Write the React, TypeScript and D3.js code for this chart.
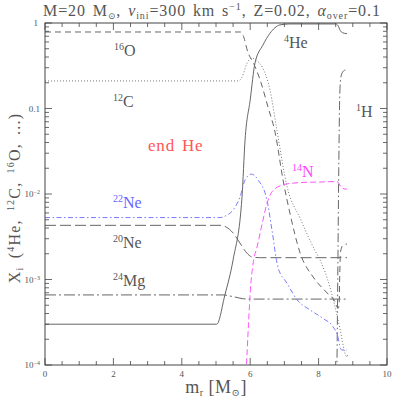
import React from "react";
import * as d3 from "d3";

const heX = [0, 5.02, 5.26, 5.5, 5.76, 5.85, 6.0, 6.14, 6.37, 6.58, 6.87, 7.16, 8.5, 8.57, 8.63, 8.7, 8.83];
const heY = [3.0e-4, 3.0e-4, 6.6e-4, 1.7e-3, 9.2e-3, 0.043, 0.126, 0.34, 0.55, 0.76, 0.95, 0.975, 0.975, 0.93, 0.82, 0.77, 0.75];

const hX = [8.53, 8.56, 8.59, 8.62, 8.65, 8.7, 8.76, 8.83];
const hY = [5e-5, 1e-3, 0.02, 0.15, 0.23, 0.265, 0.28, 0.285];

const cX = [0, 5.65, 5.76, 5.91, 6.05, 6.2, 6.35, 6.58, 6.78, 7.08, 7.46, 7.89, 8.04, 8.33, 8.48, 8.63, 8.77, 8.83, 8.85];
const cY = [0.21, 0.21, 0.233, 0.34, 0.39, 0.36, 0.306, 0.164, 0.056, 0.0121, 0.0052, 0.0022, 0.0017, 8.2e-4, 4.8e-4, 2.6e-4, 1.38e-4, 1.24e-4, 1.3e-4];

const oX = [0, 5.72, 5.79, 5.94, 6.08, 6.29, 6.52, 6.73, 6.96, 7.16, 7.46, 7.84, 8.25, 8.48, 8.57, 8.6, 8.62, 8.64, 8.71, 8.83];
const oY = [0.785, 0.785, 0.72, 0.446, 0.35, 0.216, 0.104, 0.052, 0.0146, 0.006, 0.00204, 0.00107, 6.95e-4, 5.5e-4, 4.6e-4, 5e-4, 1.2e-3, 2.1e-3, 2.5e-3, 2.6e-3];

const ne20X = [0, 5.12, 5.3, 5.5, 5.7, 5.9, 6.08, 6.3, 8.83];
const ne20Y = [4.3e-3, 4.3e-3, 4.1e-3, 3.5e-3, 2.67e-3, 2.04e-3, 1.82e-3, 1.8e-3, 1.8e-3];

const mgX = [0, 5.2, 5.5, 5.8, 6.0, 8.83];
const mgY = [6.6e-4, 6.6e-4, 6.3e-4, 5.95e-4, 5.9e-4, 5.9e-4];

const ne22X = [0, 5.12, 5.3, 5.5, 5.7, 5.85, 6.04, 6.23, 6.49, 6.64, 6.81, 7.08, 7.37, 7.75, 8.13, 8.42, 8.57, 8.63, 8.68, 8.83];
const ne22Y = [5.3e-3, 5.3e-3, 5.6e-3, 6.5e-3, 9.2e-3, 0.0146, 0.0171, 0.0146, 8.5e-3, 3.7e-3, 1.4e-3, 9e-4, 5.8e-4, 4.4e-4, 3.5e-4, 2.8e-4, 2.1e-4, 1.6e-4, 1.5e-4, 1.5e-4];

const nX = [5.88, 5.95, 6.0, 6.08, 6.2, 6.35, 6.5, 6.67, 6.96, 7.25, 7.66, 8.04, 8.54, 8.65, 8.71, 8.83];
const nY = [8e-5, 3e-4, 7e-4, 1.5e-3, 2.4e-3, 4.5e-3, 8e-3, 0.011, 0.0128, 0.0134, 0.0137, 0.0138, 0.014, 0.0122, 0.0116, 0.0114];

const xTicksMajor = [0, 2, 4, 6, 8, 10];

const W = 409, H = 409;
const L = 45, R = 387, T = 23, B = 365;

const x = d3.scaleLinear().domain([0, 10]).range([L, R]);
const y = d3.scaleLog().domain([1e-4, 1]).range([B, T]);

const line = d3
  .line<[number, number]>()
  .x((d) => x(d[0]))
  .y((d) => y(d[1]))
  .curve(d3.curveMonotoneX);

const zip = (a: number[], b: number[]) => a.map((v, i) => [v, b[i]] as [number, number]);

const series = [
  { xs: heX, ys: heY, color: "#666", dash: "none" },
  { xs: hX, ys: hY, color: "#666", dash: "9,3,1.5,3" },
  { xs: cX, ys: cY, color: "#777", dash: "1,2" },
  { xs: oX, ys: oY, color: "#666", dash: "6,4" },
  { xs: ne20X, ys: ne20Y, color: "#666", dash: "11,4" },
  { xs: mgX, ys: mgY, color: "#666", dash: "11,3,2,3" },
  { xs: ne22X, ys: ne22Y, color: "#7a7aff", dash: "5,2.5,1.5,2.5" },
  { xs: nX, ys: nY, color: "#ff55ff", dash: "6,3" },
];

const serif = "'Liberation Serif', 'DejaVu Serif', serif";

export default function App() {
  const xMinor = d3.range(0, 10.01, 0.5);
  const yMinor: number[] = [];
  for (let e = -4; e < 0; e++) for (let k = 2; k <= 9; k++) yMinor.push(k * Math.pow(10, e));
  const yMajor = [1e-4, 1e-3, 1e-2, 1e-1, 1];
  const txt = "#555";
  return (
    <svg width={W} height={H} style={{ position: "absolute", left: 0, top: 0 }}>
      <rect width={W} height={H} fill="#fff" />
      <defs>
        <clipPath id="pa">
          <rect x={L} y={T} width={R - L} height={B - T} />
        </clipPath>
      </defs>
      {/* title */}
      <text x={43} y={16} fontFamily={serif} fontSize={16} fill="#555" letterSpacing={0.9} wordSpacing={2}>
        M=20 M<tspan dy={3} fontSize={9}>⊙</tspan>
        <tspan dy={-3}>, </tspan>
        <tspan fontStyle="italic">v</tspan>
        <tspan dy={3} fontSize={10}>ini</tspan>
        <tspan dy={-3}>=300 km s</tspan>
        <tspan dy={-6} fontSize={10}>−1</tspan>
        <tspan dy={6}>, Z=0.02, </tspan>
        <tspan fontStyle="italic">α</tspan>
        <tspan dy={3} fontSize={10}>over</tspan>
        <tspan dy={-3}>=0.1</tspan>
      </text>
      {/* curves */}
      <g clipPath="url(#pa)" fill="none">
        {series.map((s, i) => (
          <path key={i} d={line(zip(s.xs, s.ys)) || ""} stroke={s.color} strokeWidth={1} strokeDasharray={s.dash} />
        ))}
      </g>
      {/* frame */}
      <rect x={L} y={T} width={R - L} height={B - T} fill="none" stroke="#444" strokeWidth={1} />
      {/* x ticks */}
      {xMinor.map((v, i) => {
        const maj = xTicksMajor.includes(v);
        const len = maj ? 7 : 4;
        return (
          <g key={"xt" + i} stroke="#444" strokeWidth={0.8}>
            <line x1={x(v)} x2={x(v)} y1={B} y2={B - len} />
            <line x1={x(v)} x2={x(v)} y1={T} y2={T + len} />
          </g>
        );
      })}
      {xTicksMajor.map((v) => (
        <text key={"xl" + v} x={x(v)} y={377} textAnchor="middle" fontFamily={serif} fontSize={9} fill={txt}>
          {v}
        </text>
      ))}
      {/* y ticks */}
      {yMajor.map((v, i) => (
        <g key={"ym" + i} stroke="#444" strokeWidth={0.8}>
          <line x1={L} x2={L + 7} y1={y(v)} y2={y(v)} />
          <line x1={R} x2={R - 7} y1={y(v)} y2={y(v)} />
        </g>
      ))}
      {yMinor.map((v, i) => (
        <g key={"yn" + i} stroke="#444" strokeWidth={0.8}>
          <line x1={L} x2={L + 4} y1={y(v)} y2={y(v)} />
          <line x1={R} x2={R - 4} y1={y(v)} y2={y(v)} />
        </g>
      ))}
      <text x={38} y={y(1) + 3} textAnchor="end" fontFamily={serif} fontSize={9} fill={txt}>1</text>
      <text x={40} y={y(0.1) + 3} textAnchor="end" fontFamily={serif} fontSize={9} fill={txt}>0.1</text>
      {[-2, -3, -4].map((e) => (
        <text key={"yl" + e} x={40} y={y(Math.pow(10, e)) + 3} textAnchor="end" fontFamily={serif} fontSize={9} fill={txt}>
          10<tspan dy={-3} fontSize={6}>{"−" + Math.abs(e)}</tspan>
        </text>
      ))}
      {/* axis labels */}
      <text x={216} y={393} textAnchor="middle" fontFamily={serif} fontSize={18} fill="#555" letterSpacing={0.5}>
        m<tspan dy={3} fontSize={10}>r</tspan>
        <tspan dy={-3}>  [M</tspan>
        <tspan dy={3} fontSize={10}>⊙</tspan>
        <tspan dy={-3}>]</tspan>
      </text>
      <text transform={`translate(20,198) rotate(-90)`} textAnchor="middle" fontFamily={serif} fontSize={16} fill="#555" letterSpacing={1.2} wordSpacing={3}>
        X<tspan dy={3} fontSize={10}>i</tspan>
        <tspan dy={-3}> (</tspan>
        <tspan dy={-6} fontSize={10}>4</tspan>
        <tspan dy={6}>He, </tspan>
        <tspan dy={-6} fontSize={10}>12</tspan>
        <tspan dy={6}>C, </tspan>
        <tspan dy={-6} fontSize={10}>16</tspan>
        <tspan dy={6}>O, ...)</tspan>
      </text>
      {/* curve labels */}
      {[
        { t: "16", s: "O", px: 114, py: 56, c: "#555" },
        { t: "12", s: "C", px: 113, py: 107, c: "#555" },
        { t: "22", s: "Ne", px: 113, py: 208, c: "#6666ff" },
        { t: "20", s: "Ne", px: 113, py: 248, c: "#555" },
        { t: "24", s: "Mg", px: 113, py: 286, c: "#555" },
        { t: "4", s: "He", px: 284, py: 48, c: "#555" },
        { t: "1", s: "H", px: 356, py: 117, c: "#555" },
        { t: "14", s: "N", px: 292, py: 177, c: "#ff44ff" },
      ].map((l, i) => (
        <text key={"lab" + i} x={l.px} y={l.py} fontFamily={serif} fontSize={16} fill={l.c}>
          <tspan dy={-6} fontSize={10}>{l.t}</tspan>
          <tspan dy={6}>{l.s}</tspan>
        </text>
      ))}
      <text x={148} y={151} fontFamily={serif} fontSize={17} fill="#ff5555" letterSpacing={0.8} wordSpacing={2}>end He</text>
    </svg>
  );
}
